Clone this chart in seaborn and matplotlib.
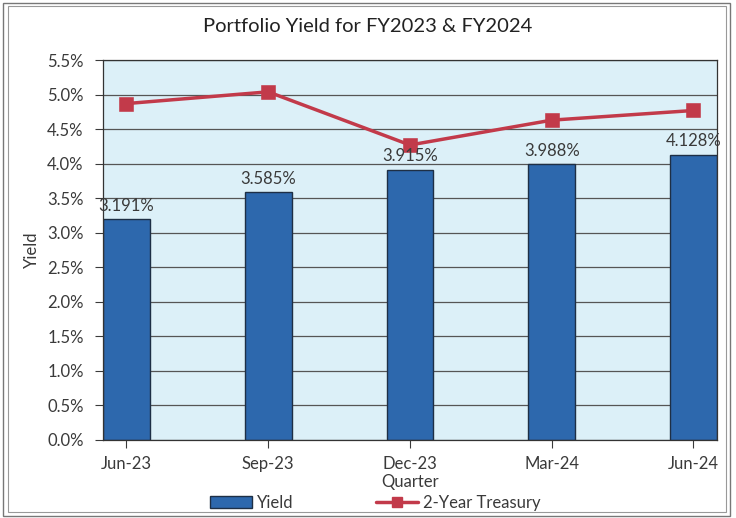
import matplotlib
matplotlib.use("Agg")
import matplotlib.pyplot as plt
from matplotlib.patches import Rectangle, Patch
from matplotlib.lines import Line2D
from matplotlib.ticker import PercentFormatter, MultipleLocator
import seaborn as sns
import pandas as pd

quarters = ["Jun-23", "Sep-23", "Dec-23", "Mar-24", "Jun-24"]
yield_pct = [3.191, 3.585, 3.915, 3.988, 4.128]
treasury_pct = [4.87, 5.04, 4.27, 4.63, 4.77]

BAR_BLUE = "#2d68ad"
LINE_RED = "#c23a4a"
PLOT_BG = "#dcf0f8"
TEXT = "#3a3a3a"

sns.set_style("white")
plt.rcParams["font.family"] = ["Lato", "DejaVu Sans"]

df = pd.DataFrame({"Quarter": quarters, "Yield": yield_pct,
                   "Treasury": treasury_pct})

fig = plt.figure(figsize=(7.36, 5.18), dpi=100)
ax = fig.add_axes([0.140, 0.151, 0.834, 0.733])
ax.set_facecolor(PLOT_BG)

bar_w = 0.33
sns.barplot(data=df, x="Quarter", y="Yield", ax=ax, color=BAR_BLUE,
            width=bar_w, edgecolor="#1e2f45", linewidth=1.0,
            saturation=1, zorder=2)
sns.pointplot(data=df, x="Quarter", y="Treasury", ax=ax, color=LINE_RED,
              marker="s", markersize=8, linewidth=2.5, zorder=3)

ax.bar_label(ax.containers[0], labels=[f"{v:.3f}%" for v in yield_pct],
             padding=4, fontsize=12, color=TEXT)

ax.set_xlim(-bar_w / 2, len(quarters) - 1 + bar_w / 2)
ax.set_ylim(0, 5.5)
ax.yaxis.set_major_locator(MultipleLocator(0.5))
ax.yaxis.set_major_formatter(PercentFormatter(xmax=100, decimals=1))
ax.grid(axis="y", color="#555555", linewidth=0.9, zorder=1)
ax.set_axisbelow(True)

ax.tick_params(axis="both", labelsize=12, colors=TEXT, length=6,
               direction="out", left=True, bottom=True)
ax.tick_params(axis="y", pad=8)
ax.tick_params(axis="x", pad=6)
ax.set_xlabel("Quarter", fontsize=12, color=TEXT, labelpad=1)
ax.set_ylabel("Yield", fontsize=12, color=TEXT, labelpad=5)
for s in ax.spines.values():
    s.set_color("#333333")
    s.set_linewidth(0.9)

fig.suptitle("Portfolio Yield for FY2023 & FY2024", y=0.965,
             fontsize=14.5, color="#222222")

handles = [Patch(facecolor=BAR_BLUE, edgecolor="#1e2f45", linewidth=1.0),
           Line2D([], [], color=LINE_RED, marker="s", markersize=7,
                  linewidth=2.5)]
fig.legend(handles, ["Yield", "2-Year Treasury"], loc="lower center",
           bbox_to_anchor=(0.51, -0.015), ncol=2, frameon=False,
           fontsize=12, columnspacing=5, handlelength=2.5,
           handletextpad=0.3, labelcolor=TEXT)

# double frame around the whole chart
fig.patches.append(Rectangle((0.004, 0.004), 0.988, 0.99, transform=fig.transFigure,
                             fill=False, edgecolor="#777777", linewidth=1.0))
fig.patches.append(Rectangle((0.011, 0.012), 0.975, 0.976, transform=fig.transFigure,
                             fill=False, edgecolor="#999999", linewidth=0.8))

fig.savefig("out.png", dpi=100)
plt.close(fig)
